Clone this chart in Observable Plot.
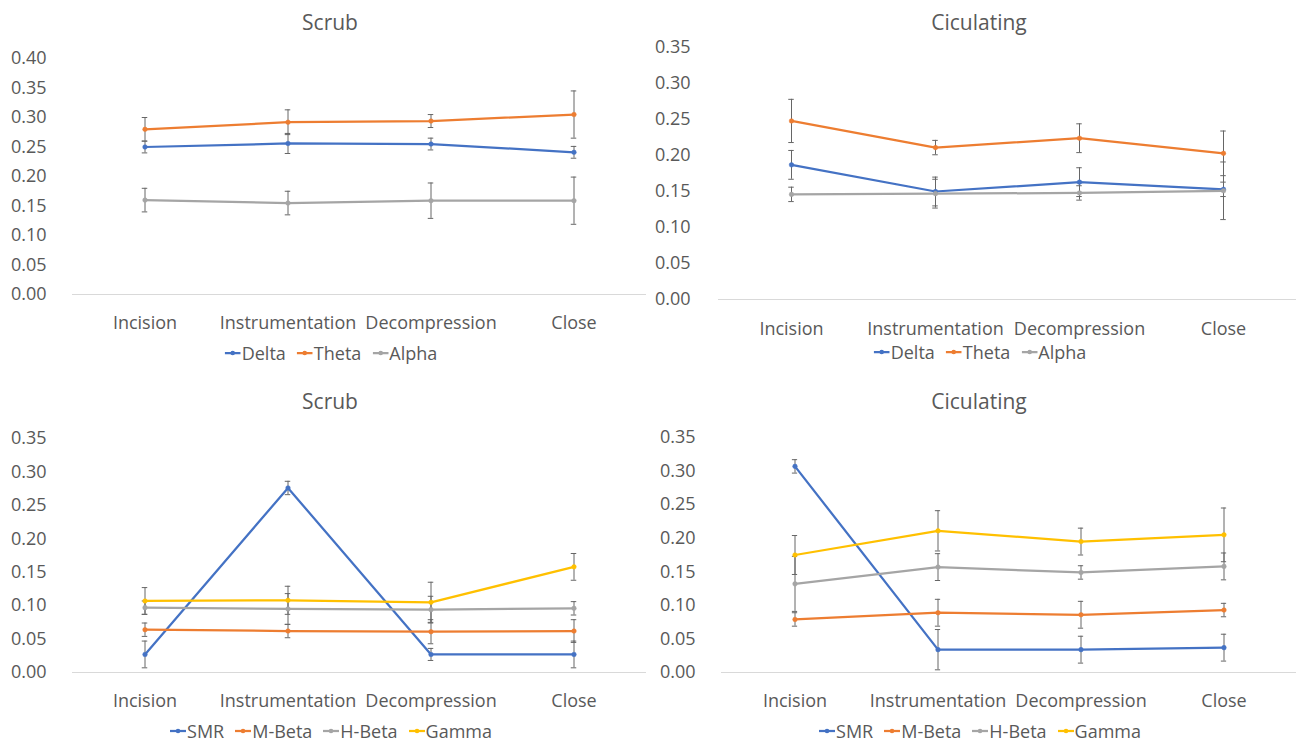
<!DOCTYPE html>
<html>
<head>
<meta charset="utf-8">
<script src="https://cdn.jsdelivr.net/npm/d3@7"></script>
<script src="https://cdn.jsdelivr.net/npm/@observablehq/plot@0.6"></script>
<style>
  body { margin: 0; background: #fff; }
  #root { position: relative; width: 1297px; height: 742px; overflow: hidden; background: #fff;
          font-family: "Open Sans", "Noto Sans", sans-serif; color: #595959; }
  .panel-svg { position: absolute; }
  .title { position: absolute; font-size: 21px; color: #595959; transform: translate(-50%, -50%); white-space: nowrap; }
  .legend { position: absolute; transform: translate(-50%, -50%); display: flex; gap: 11px; font-size: 18px; white-space: nowrap; align-items: center; }
  .legend span.item { display: flex; align-items: center; gap: 1px; }
</style>
</head>
<body>
<div id="root"></div>
<script>
// ---------- data ----------
const categories = ["Incision", "Instrumentation", "Decompression", "Close"];

// Top-left: Scrub (Delta / Theta / Alpha)
const scrubDelta    = [0.250, 0.256, 0.255, 0.241];
const scrubDeltaErr = [0.010, 0.017, 0.010, 0.010];
const scrubTheta    = [0.280, 0.292, 0.294, 0.305];
const scrubThetaErr = [0.020, 0.021, 0.011, 0.040];
const scrubAlpha    = [0.160, 0.155, 0.159, 0.159];
const scrubAlphaErr = [0.020, 0.020, 0.030, 0.040];

// Top-right: Ciculating (Delta / Theta / Alpha)
const circDelta    = [0.187, 0.150, 0.163, 0.153];
const circDeltaErr = [0.020, 0.020, 0.020, 0.010];
const circTheta    = [0.248, 0.211, 0.224, 0.203];
const circThetaErr = [0.030, 0.010, 0.020, 0.031];
const circAlpha    = [0.146, 0.147, 0.148, 0.151];
const circAlphaErr = [0.010, 0.020, 0.010, 0.040];

// Bottom-left: Scrub (SMR / M-Beta / H-Beta / Gamma)
const scrubSMR      = [0.027, 0.276, 0.027, 0.027];
const scrubSMRErr   = [0.020, 0.010, 0.009, 0.020];
const scrubMBeta    = [0.064, 0.062, 0.061, 0.062];
const scrubMBetaErr = [0.010, 0.010, 0.018, 0.017];
const scrubHBeta    = [0.097, 0.095, 0.094, 0.096];
const scrubHBetaErr = [0.010, 0.023, 0.020, 0.010];
const scrubGamma    = [0.107, 0.108, 0.105, 0.158];
const scrubGammaErr = [0.020, 0.021, 0.030, 0.020];

// Bottom-right: Ciculating (SMR / M-Beta / H-Beta / Gamma)
const circSMR      = [0.307, 0.034, 0.034, 0.037];
const circSMRErr   = [0.010, 0.030, 0.020, 0.020];
const circMBeta    = [0.079, 0.089, 0.086, 0.093];
const circMBetaErr = [0.010, 0.020, 0.020, 0.010];
const circHBeta    = [0.132, 0.157, 0.149, 0.158];
const circHBetaErr = [0.041, 0.020, 0.010, 0.020];
const circGamma    = [0.175, 0.211, 0.195, 0.205];
const circGammaErr = [0.029, 0.030, 0.020, 0.040];

// tick labels
const yTicks40 = [0, 0.05, 0.10, 0.15, 0.20, 0.25, 0.30, 0.35, 0.40];
const yTicks35 = [0, 0.05, 0.10, 0.15, 0.20, 0.25, 0.30, 0.35];

const titles = ["Scrub", "Ciculating", "Scrub", "Ciculating"];
const bandNames1 = ["Delta", "Theta", "Alpha"];
const bandNames2 = ["SMR", "M-Beta", "H-Beta", "Gamma"];
const colors = ["#4472C4", "#ED7D31", "#A5A5A5", "#FFC000"];

// ---------- helpers ----------
function rows(vals, errs, name) {
  return categories.map((c, i) => ({cat: c, v: vals[i], e: errs[i], series: name}));
}

const root = document.getElementById("root");

function panel(cfg) {
  const bw = (cfg.width - cfg.ml - cfg.mr) / categories.length;
  const capInset = bw / 2 - 3;
  const marks = [Plot.ruleY([0], {stroke: "#d9d9d9", strokeWidth: 1})];
  cfg.series.forEach((s, k) => {
    const data = rows(s.vals, s.errs, s.name);
    marks.push(
      Plot.ruleX(data, {x: "cat", y1: d => d.v - d.e, y2: d => d.v + d.e, stroke: "#666", strokeWidth: 1}),
      Plot.tickY(data, {x: "cat", y: d => d.v + d.e, stroke: "#666", strokeWidth: 1, insetLeft: capInset, insetRight: capInset}),
      Plot.tickY(data, {x: "cat", y: d => d.v - d.e, stroke: "#666", strokeWidth: 1, insetLeft: capInset, insetRight: capInset})
    );
  });
  cfg.series.forEach((s, k) => {
    const data = rows(s.vals, s.errs, s.name);
    marks.push(
      Plot.line(data, {x: "cat", y: "v", stroke: colors[k], strokeWidth: 2.25}),
      Plot.dot(data, {x: "cat", y: "v", fill: colors[k], stroke: colors[k], strokeWidth: 0.5, r: 2.3})
    );
  });
  const svg = Plot.plot({
    width: cfg.width, height: cfg.height,
    marginLeft: cfg.ml, marginRight: cfg.mr, marginTop: cfg.mt, marginBottom: cfg.mb,
    style: {fontSize: "18px", fontFamily: '"Open Sans", "Noto Sans", sans-serif', color: "#595959", background: "transparent", overflow: "visible"},
    x: {type: "band", domain: categories, padding: 0, label: null, tickSize: 0, tickPadding: cfg.xpad},
    y: {domain: cfg.ydomain, ticks: cfg.yticks, tickFormat: d3.format(".2f"), tickSize: 0, tickPadding: cfg.ypad, label: null},
    marks
  });
  svg.classList.add("panel-svg");
  svg.style.left = cfg.left + "px";
  svg.style.top = cfg.top + "px";
  root.appendChild(svg);

  const t = document.createElement("div");
  t.className = "title";
  t.textContent = cfg.title;
  t.style.left = cfg.titleX + "px";
  t.style.top = cfg.titleY + "px";
  root.appendChild(t);

  const lg = document.createElement("div");
  lg.className = "legend";
  lg.style.left = cfg.legendX + "px";
  lg.style.top = cfg.legendY + "px";
  cfg.series.forEach((s, k) => {
    const item = document.createElement("span");
    item.className = "item";
    item.innerHTML = `<svg width="16" height="10"><line x1="0" y1="5" x2="16" y2="5" stroke="${colors[k]}" stroke-width="2.25"/><circle cx="8" cy="5" r="2.3" fill="${colors[k]}"/></svg><span>${s.name}</span>`;
    lg.appendChild(item);
  });
  root.appendChild(lg);
}

// Top-left
panel({
  left: 0, top: 40, width: 648, height: 300, ml: 72, mr: 2, mt: 18, mb: 46,
  ydomain: [0, 0.40], yticks: yTicks40, ypad: 26, xpad: 22,
  title: titles[0], titleX: 330, titleY: 22, legendX: 331, legendY: 353,
  series: [
    {name: bandNames1[0], vals: scrubDelta, errs: scrubDeltaErr},
    {name: bandNames1[1], vals: scrubTheta, errs: scrubThetaErr},
    {name: bandNames1[2], vals: scrubAlpha, errs: scrubAlphaErr}
  ]
});

// Top-right
panel({
  left: 648, top: 30, width: 649, height: 320, ml: 70, mr: 1, mt: 17, mb: 51,
  ydomain: [0, 0.35], yticks: yTicks35, ypad: 28, xpad: 23,
  title: titles[1], titleX: 979, titleY: 22, legendX: 980, legendY: 352,
  series: [
    {name: bandNames1[0], vals: circDelta, errs: circDeltaErr},
    {name: bandNames1[1], vals: circTheta, errs: circThetaErr},
    {name: bandNames1[2], vals: circAlpha, errs: circAlphaErr}
  ]
});

// Bottom-left
panel({
  left: 0, top: 420, width: 648, height: 300, ml: 72, mr: 2, mt: 18, mb: 48,
  ydomain: [0, 0.35], yticks: yTicks35, ypad: 26, xpad: 22,
  title: titles[2], titleX: 330, titleY: 401, legendX: 331, legendY: 731,
  series: [
    {name: bandNames2[0], vals: scrubSMR, errs: scrubSMRErr},
    {name: bandNames2[1], vals: scrubMBeta, errs: scrubMBetaErr},
    {name: bandNames2[2], vals: scrubHBeta, errs: scrubHBetaErr},
    {name: bandNames2[3], vals: scrubGamma, errs: scrubGammaErr}
  ]
});

// Bottom-right
panel({
  left: 648, top: 420, width: 649, height: 300, ml: 73, mr: 1, mt: 17, mb: 48,
  ydomain: [0, 0.35], yticks: yTicks35, ypad: 26, xpad: 22,
  title: titles[3], titleX: 979, titleY: 401, legendX: 980, legendY: 731,
  series: [
    {name: bandNames2[0], vals: circSMR, errs: circSMRErr},
    {name: bandNames2[1], vals: circMBeta, errs: circMBetaErr},
    {name: bandNames2[2], vals: circHBeta, errs: circHBetaErr},
    {name: bandNames2[3], vals: circGamma, errs: circGammaErr}
  ]
});
</script>
</body>
</html>
